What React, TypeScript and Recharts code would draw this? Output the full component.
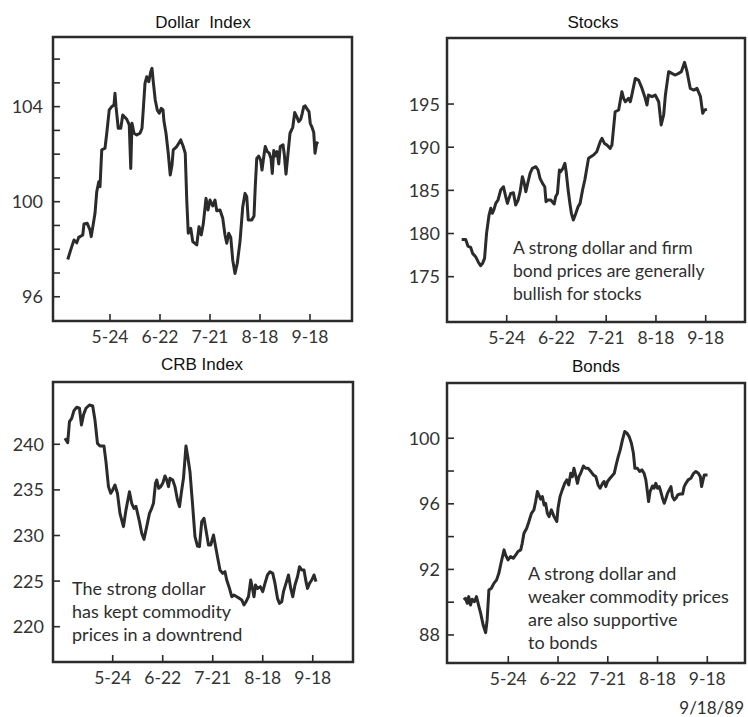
import React from 'react'
import { LineChart, Line, XAxis, YAxis, ReferenceArea } from 'recharts'

const INK = '#2b2b2b'
const TICK_FONT = 'Lato, "Open Sans", sans-serif'
const TITLE_FONT = '"Liberation Sans", Arial, sans-serif'

// x positions are trading-day index; 5-24 sits at 20, 9-18 at 100
const tickDays = [20, 40, 60, 80, 100]
const tickLabels = ['5-24', '6-22', '7-21', '8-18', '9-18']

const dollarDays = [
  3.1, 4.7, 5.6, 6.7, 7.5, 9.1, 9.6, 10.9, 12.0, 12.5,
  14.0, 14.7, 15.5, 16.0, 16.7, 18.0, 18.7, 19.7, 20.7, 21.6,
  22.0, 22.4, 23.3, 24.3, 25.1, 26.7, 27.7, 28.3, 28.8, 29.6,
  30.7, 32.0, 32.8, 33.3, 34.0, 34.7, 35.5, 36.3, 36.8, 37.3,
  38.1, 38.9, 39.7, 40.5, 41.2, 41.6, 42.4, 43.3, 44.1, 44.8,
  45.3, 46.7, 48.3, 49.3, 50.1, 50.7, 51.3, 52.3, 53.1, 54.7,
  55.6, 56.5, 57.3, 58.4, 59.2, 60.0, 61.1, 62.0, 62.7, 64.0,
  65.1, 66.0, 66.7, 67.5, 68.3, 69.1, 70.0, 70.9, 72.0, 73.1,
  74.0, 74.7, 75.3, 76.7, 77.6, 78.1, 78.7, 79.5, 80.3, 80.8,
  81.5, 82.1, 82.9, 83.7, 84.4, 84.9, 85.5, 86.1, 86.8, 87.5,
  88.1, 89.2, 89.7, 90.4, 91.1, 92.0, 93.1, 93.9, 94.7, 95.5,
  96.3, 96.9, 97.5, 98.1, 98.9, 99.6, 100.1, 100.8, 101.5, 102.0,
  102.7, 103.3,
]
const dollarValues = [
  97.57, 98.11, 98.39, 98.27, 98.5, 98.6, 99.06, 99.09, 98.81, 98.53,
  99.51, 100.42, 100.84, 100.63, 102.18, 102.25, 102.88, 103.86, 104.0, 104.07,
  104.56, 104.0, 103.09, 103.09, 103.65, 103.47, 103.23, 101.4, 103.3, 102.88,
  102.81, 102.88, 103.09, 103.86, 104.98, 105.26, 105.05, 105.47, 105.61, 105.05,
  104.28, 103.86, 103.72, 103.93, 103.86, 103.37, 102.88, 102.04, 101.12, 101.54,
  102.18, 102.32, 102.6, 102.32, 102.04, 100.07, 98.67, 98.88, 98.32, 98.18,
  98.95, 98.6, 99.06, 100.14, 99.65, 100.07, 99.82, 100.07, 99.62, 99.65,
  99.3, 98.6, 98.25, 98.67, 98.5, 97.54, 96.98, 97.4, 98.32, 99.79,
  100.35, 100.21, 99.23, 99.23, 99.4, 100.63, 101.82, 101.92, 101.73, 101.33,
  101.89, 102.32, 102.11, 102.04, 101.82, 101.19, 102.15, 101.92, 102.11, 101.59,
  102.32, 102.39, 102.01, 101.16, 101.92, 102.88, 103.13, 103.75, 103.58, 103.37,
  103.47, 103.72, 104.0, 104.03, 103.89, 103.79, 103.3, 103.13, 102.91, 102.04,
  102.48, 102.43,
]

const stockDays = [
  1.9, 3.5, 4.4, 5.5, 6.3, 7.5, 8.5, 9.5, 10.3, 11.1,
  11.9, 12.9, 13.6, 14.2, 14.9, 15.6, 16.5, 17.6, 18.7, 19.6,
  20.3, 20.9, 21.6, 22.7, 23.6, 24.6, 25.4, 26.3, 27.0, 27.7,
  28.6, 29.4, 30.3, 31.7, 32.6, 33.4, 34.4, 35.3, 35.8, 36.6,
  37.7, 39.1, 39.7, 40.4, 41.2, 41.7, 42.6, 43.4, 43.9, 44.7,
  45.4, 46.0, 46.8, 47.8, 48.7, 49.5, 50.5, 51.4, 52.9, 54.9,
  56.2, 57.6, 58.3, 59.3, 60.3, 61.6, 62.3, 63.6, 65.0, 66.3,
  67.0, 67.7, 69.0, 69.7, 70.3, 71.7, 73.0, 74.4, 75.7, 76.4,
  77.0, 78.4, 79.7, 81.1, 82.1, 83.1, 83.8, 85.1, 86.4, 87.8,
  89.1, 90.2, 91.5, 92.5, 93.8, 95.2, 96.5, 97.9, 98.8, 99.5,
  100.5,
]
const stockValues = [
  179.32, 179.32, 178.55, 178.4, 177.7, 177.32, 176.74, 176.27, 176.54, 177.12,
  180.02, 182.14, 182.92, 182.34, 182.8, 183.49, 183.88, 185.04, 185.42, 184.27,
  183.49, 184.07, 184.65, 184.73, 183.3, 183.88, 184.85, 186.58, 185.89, 184.85,
  186.0, 186.97, 187.55, 187.74, 187.36, 186.39, 185.81, 185.42, 183.69, 183.88,
  183.88, 183.42, 184.27, 184.65, 187.36, 187.16, 187.55, 188.13, 187.16, 185.04,
  183.49, 182.34, 181.56, 182.34, 183.11, 183.49, 185.04, 186.2, 188.71, 189.09,
  189.48, 190.64, 191.02, 190.44, 190.25, 189.86, 190.25, 194.11, 194.31, 196.43,
  195.66, 195.27, 195.66, 195.27, 196.04, 197.97, 197.78, 196.81, 195.66, 194.88,
  196.04, 195.85, 196.04, 195.27, 192.57, 193.73, 196.04, 198.75, 198.55, 198.36,
  198.55, 198.75, 199.83, 198.75, 196.81, 196.62, 196.81, 195.85, 193.92, 194.31,
  194.38,
]

const crbDays = [
  0.9, 2.0, 2.7, 3.6, 4.5, 5.6, 6.7, 7.5, 8.3, 9.3,
  10.7, 12.0, 12.9, 13.9, 14.9, 16.5, 17.3, 18.3, 19.2, 20.0,
  20.9, 21.9, 22.9, 24.3, 25.3, 26.7, 27.6, 28.5, 29.3, 30.7,
  31.6, 32.5, 33.6, 34.7, 35.6, 36.3, 37.1, 37.6, 38.4, 39.2,
  40.0, 40.9, 41.6, 42.3, 42.9, 44.0, 44.9, 45.9, 46.7, 47.5,
  48.3, 49.3, 50.0, 50.9, 52.0, 52.9, 53.9, 54.7, 55.6, 56.5,
  57.3, 58.3, 59.2, 60.3, 60.9, 61.9, 62.9, 64.0, 64.9, 65.6,
  66.7, 67.6, 68.5, 69.6, 70.7, 71.6, 72.5, 73.3, 74.3, 75.2,
  76.0, 76.5, 77.1, 77.9, 79.0, 80.0, 80.9, 81.9, 82.9, 84.0,
  84.9, 85.9, 86.7, 87.6, 88.3, 89.3, 90.3, 91.2, 92.0, 92.9,
  93.9, 94.7, 95.6, 96.5, 97.3, 97.9, 98.7, 99.6, 100.5, 101.3,
]
const crbValues = [
  240.66, 240.18, 242.49, 242.85, 243.69, 244.06, 243.95, 242.12, 243.2, 243.95,
  244.31, 244.2, 242.67, 240.1, 239.82, 239.82, 238.1, 235.36, 234.63, 235.0,
  235.54, 234.6, 232.43, 230.97, 232.8, 234.8, 233.53, 232.98, 233.2, 231.52,
  230.24, 229.58, 230.97, 232.43, 232.98, 233.53, 235.72, 236.09, 235.17, 235.36,
  235.72, 236.53, 236.09, 235.36, 236.27, 236.09, 235.36, 233.89, 233.16, 234.8,
  236.27, 239.82, 238.65, 237.0, 233.16, 229.87, 228.85, 228.78, 231.52, 231.88,
  230.6, 228.96, 228.96, 230.05, 229.14, 227.68, 226.22, 225.85, 226.03, 225.12,
  224.2, 223.29, 223.47, 223.29, 223.11, 222.93, 222.38, 222.74, 223.29, 225.12,
  224.02, 223.29, 224.57, 224.2, 224.39, 223.84, 224.75, 225.67, 226.03, 225.85,
  224.75, 223.11, 222.56, 222.74, 223.84, 224.75, 225.67, 224.2, 223.29, 224.57,
  225.48, 226.58, 226.22, 226.22, 224.94, 224.2, 224.75, 225.12, 225.67, 224.94,
]

const bondDays = [
  2.1, 2.8, 3.5, 4.1, 4.8, 5.5, 6.4, 7.2, 8.2, 8.9,
  9.9, 10.9, 11.5, 12.2, 13.2, 14.2, 15.3, 16.2, 17.2, 18.3,
  18.9, 19.9, 20.9, 22.0, 23.0, 23.9, 25.0, 25.6, 26.3, 27.4,
  28.3, 29.3, 30.3, 31.0, 31.7, 32.3, 33.0, 33.7, 34.4, 35.0,
  35.7, 36.4, 37.3, 38.4, 39.5, 40.0, 40.8, 41.7, 42.7, 43.5,
  44.3, 45.1, 45.8, 46.4, 47.2, 47.8, 48.4, 49.1, 50.2, 51.1,
  52.1, 53.2, 54.2, 55.2, 56.1, 56.9, 57.9, 58.5, 59.2, 59.9,
  60.9, 61.7, 62.6, 63.2, 64.2, 65.0, 65.9, 66.8, 67.7, 68.6,
  69.5, 70.3, 70.9, 71.9, 72.8, 73.7, 74.6, 75.3, 76.0, 76.4,
  77.0, 78.0, 78.6, 79.3, 80.0, 80.7, 81.3, 82.0, 82.7, 83.4,
  84.0, 84.7, 85.4, 86.0, 86.7, 87.4, 88.1, 89.1, 90.1, 90.7,
  91.4, 92.3, 93.4, 94.5, 95.4, 96.4, 97.2, 97.7, 98.3, 98.8,
  100.1,
]
const bondValues = [
  90.14, 90.24, 89.93, 90.34, 89.83, 90.18, 90.03, 90.34, 89.73, 89.32,
  88.61, 88.14, 88.92, 90.75, 90.85, 91.15, 91.36, 91.76, 92.47, 93.19,
  92.88, 92.58, 92.78, 92.68, 92.88, 93.09, 93.19, 93.59, 94.2, 94.51,
  94.92, 95.42, 95.63, 96.14, 96.75, 96.54, 96.28, 96.44, 95.93, 96.03,
  95.42, 95.22, 95.63, 95.22, 94.92, 95.73, 96.44, 96.85, 97.25, 97.46,
  97.15, 97.86, 97.66, 98.17, 97.66, 97.25, 97.66, 97.86, 98.31, 98.17,
  98.17, 97.97, 97.76, 97.66, 97.15, 96.95, 97.25, 97.36, 97.05, 97.36,
  97.56, 97.7, 97.86, 98.27, 98.88, 99.29, 99.9, 100.41, 100.31, 100.1,
  99.69, 99.08, 98.17, 98.17, 97.97, 98.07, 97.86, 97.46, 96.64, 96.14,
  96.75, 97.09, 96.95, 97.25, 96.95, 97.05, 96.75, 96.34, 96.03, 96.34,
  96.64, 96.85, 97.05, 96.44, 96.24, 96.34, 96.54, 96.6, 96.6, 97.05,
  97.25, 97.46, 97.56, 97.86, 97.97, 97.86, 97.66, 97.05, 97.46, 97.76,
  97.76,
]

const dollarTicks = [96, 97, 98, 99, 100, 101, 102, 103, 104, 105, 106]
const stockTicks = [175, 180, 185, 190, 195]
const crbTicks = [220, 225, 230, 235, 240]
const bondTicks = [88, 90, 92, 94, 96, 98, 100]

const toRows = (days: number[], values: number[]) =>
  days.map((d, i) => ({ d, v: values[i] }))

interface PanelProps {
  left: number
  top: number
  height: number
  marginTop: number
  marginRight: number
  yWidth: number
  xHeight: number
  xDomain: [number, number]
  yDomain: [number, number]
  yTicks: number[]
  labelEvery: number
  labelGap: number
  rows: { d: number; v: number }[]
}

function Panel(p: PanelProps) {
  const yTick = (props: any) => {
    const { x, y, payload } = props
    const show = payload.value % p.labelEvery === 0
    return (
      <g>
        <line x1={x} x2={x + 7} y1={y} y2={y} stroke={INK} strokeWidth={1.6} />
        {show && (
          <text
            x={x - p.labelGap}
            y={y}
            dy="0.36em"
            textAnchor="end"
            fontFamily={TICK_FONT}
            fontSize={18}
            fill="#333"
          >
            {payload.value}
          </text>
        )}
      </g>
    )
  }

  const xTick = (props: any) => {
    const { x, y, payload } = props
    const label = tickLabels[tickDays.indexOf(payload.value)]
    return (
      <g>
        <line x1={x} x2={x} y1={y} y2={y - 7} stroke={INK} strokeWidth={1.6} />
        <text
          x={x}
          y={y + 16}
          dy="0.36em"
          textAnchor="middle"
          fontFamily={TICK_FONT}
          fontSize={17.5}
          fill="#333"
        >
          {label}
        </text>
      </g>
    )
  }

  return (
    <div style={{ position: 'absolute', left: p.left, top: p.top }}>
      <LineChart
        width={374}
        height={p.height}
        data={p.rows}
        margin={{ top: p.marginTop, right: p.marginRight, left: 0, bottom: 0 }}
      >
        <XAxis
          dataKey="d"
          type="number"
          domain={p.xDomain}
          allowDataOverflow
          ticks={tickDays}
          interval={0}
          height={p.xHeight}
          axisLine={false}
          tickLine={false}
          tickSize={0}
          tickMargin={0}
          tick={xTick}
        />
        <YAxis
          type="number"
          domain={p.yDomain}
          allowDataOverflow
          ticks={p.yTicks}
          interval={0}
          width={p.yWidth}
          axisLine={false}
          tickLine={false}
          tickSize={0}
          tickMargin={0}
          tick={yTick}
        />
        <Line
          dataKey="v"
          type="linear"
          dot={false}
          stroke={INK}
          strokeWidth={3}
          strokeLinejoin="round"
          isAnimationActive={false}
        />
        <ReferenceArea
          x1={p.xDomain[0]}
          x2={p.xDomain[1]}
          y1={p.yDomain[0]}
          y2={p.yDomain[1]}
          fill="none"
          fillOpacity={0}
          stroke={INK}
          strokeWidth={2.5}
          ifOverflow="visible"
        />
      </LineChart>
    </div>
  )
}

const noteStyle = { fontFamily: TICK_FONT, fill: '#2e2e2e' }

export default function App() {
  return (
    <div
      style={{
        position: 'absolute',
        left: 0,
        top: 0,
        width: 748,
        height: 717,
        background: '#fff',
        overflow: 'hidden',
      }}
    >
      <Panel
        left={0}
        top={0}
        height={362}
        marginTop={37}
        marginRight={22}
        yWidth={53}
        xHeight={41}
        xDomain={[-2.8, 116.8]}
        yDomain={[94.98, 106.93]}
        yTicks={dollarTicks}
        labelEvery={4}
        labelGap={10}
        rows={toRows(dollarDays, dollarValues)}
      />
      <Panel
        left={374}
        top={0}
        height={362}
        marginTop={38}
        marginRight={3}
        yWidth={73}
        xHeight={40}
        xDomain={[-4.0, 115.8]}
        yDomain={[169.75, 202.65]}
        yTicks={stockTicks}
        labelEvery={5}
        labelGap={7}
        rows={toRows(stockDays, stockValues)}
      />
      <Panel
        left={0}
        top={340}
        height={360}
        marginTop={42}
        marginRight={21}
        yWidth={53}
        xHeight={38}
        xDomain={[-3.88, 116.1]}
        yDomain={[216.13, 246.83]}
        yTicks={crbTicks}
        labelEvery={5}
        labelGap={9}
        rows={toRows(crbDays, crbValues)}
      />
      <Panel
        left={374}
        top={340}
        height={360}
        marginTop={43}
        marginRight={3}
        yWidth={73}
        xHeight={37}
        xDomain={[-4.64, 115.16]}
        yDomain={[86.29, 103.37]}
        yTicks={bondTicks}
        labelEvery={4}
        labelGap={7}
        rows={toRows(bondDays, bondValues)}
      />

      <svg
        width={748}
        height={717}
        style={{ position: 'absolute', left: 0, top: 0, pointerEvents: 'none' }}
      >
        <g fontFamily={TITLE_FONT} fontSize={17} fill="#111" textAnchor="middle">
          <text x={203} y={28.3} style={{ whiteSpace: 'pre' }}>Dollar  Index</text>
          <text x={593} y={28.3}>Stocks</text>
          <text x={202} y={370}>CRB Index</text>
          <text x={596} y={371.7}>Bonds</text>
        </g>

        <g {...noteStyle} fontSize={17.5}>
          <text x={513} y={254}>A strong dollar and firm</text>
          <text x={513} y={277}>bond prices are generally</text>
          <text x={513} y={300}>bullish for stocks</text>
        </g>

        <g {...noteStyle} fontSize={18}>
          <text x={72} y={595}>The strong dollar</text>
          <text x={72} y={618}>has kept commodity</text>
          <text x={72} y={641}>prices in a downtrend</text>
        </g>

        <g {...noteStyle} fontSize={18}>
          <text x={528} y={579.5}>A strong dollar and</text>
          <text x={528} y={602.5}>weaker commodity prices</text>
          <text x={528} y={625.5}>are also supportive</text>
          <text x={528} y={648.5}>to bonds</text>
        </g>

        <text x={744} y={714} textAnchor="end" fontFamily={TICK_FONT} fontSize={17} fill="#2e2e2e">
          9/18/89
        </text>
      </svg>
    </div>
  )
}
